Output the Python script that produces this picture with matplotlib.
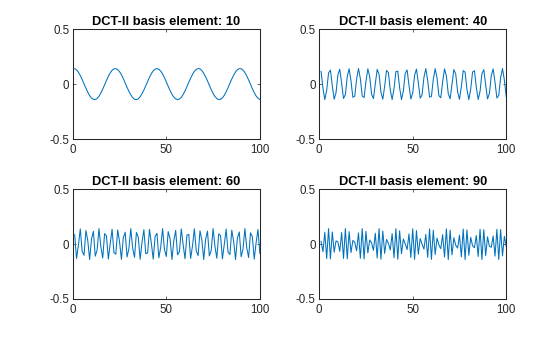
import matplotlib
matplotlib.use('Agg')
import matplotlib.pyplot as plt

plt.rcParams['font.family'] = ['Liberation Sans', 'DejaVu Sans']

# sample index 1..100
n = list(range(1, 101))

elements = [10, 40, 60, 90]

dct10 = [.140, .129, .108, .078, .042, .002, -.037, -.074, -.105, -.127,
         -.139, -.141, -.131, -.110, -.081, -.046, -.007, .033, .070, .102,
         .125, .138, .141, .132, .113, .085, .050, .011, -.029, -.066,
         -.098, -.123, -.138, -.141, -.134, -.116, -.088, -.054, -.016, .024,
         .062, .095, .121, .136, .141, .135, .118, .092, .058, .020,
         -.020, -.058, -.092, -.118, -.135, -.141, -.136, -.121, -.095, -.062,
         -.024, .016, .054, .088, .116, .134, .141, .138, .123, .098,
         .066, .029, -.011, -.050, -.085, -.113, -.132, -.141, -.138, -.125,
         -.102, -.070, -.033, .007, .046, .081, .110, .131, .141, .139,
         .127, .105, .074, .037, -.002, -.042, -.078, -.108, -.129, -.140]

dct40 = [.116, -.037, -.141, -.058, .102, .127, -.016, -.138, -.078, .085,
         .135, .007, -.131, -.095, .066, .140, .029, -.121, -.110, .046,
         .141, .050, -.108, -.123, .024, .139, .070, -.092, -.132, .002,
         .134, .088, -.074, -.138, -.020, .125, .105, -.054, -.141, -.042,
         .113, .118, -.033, -.141, -.062, .098, .129, -.011, -.136, -.081,
         .081, .136, .011, -.129, -.098, .062, .141, .033, -.118, -.113,
         .042, .141, .054, -.105, -.125, .020, .138, .074, -.088, -.134,
         -.002, .132, .092, -.070, -.139, -.024, .123, .108, -.050, -.141,
         -.046, .110, .121, -.029, -.140, -.066, .095, .131, -.007, -.135,
         -.085, .078, .138, .016, -.127, -.102, .058, .141, .037, -.116]

dct60 = [.085, -.132, -.011, .138, -.066, -.102, .123, .033, -.141, .046,
         .116, -.110, -.054, .141, -.024, -.127, .095, .074, -.136, .002,
         .135, -.078, -.092, .129, .020, -.140, .058, .108, -.118, -.042,
         .141, -.037, -.121, .105, .062, -.139, .016, .131, -.088, -.081,
         .134, .007, -.138, .070, .098, -.125, -.029, .141, -.050, -.113,
         .113, .050, -.141, .029, .125, -.098, -.070, .138, -.007, -.134,
         .081, .088, -.131, -.016, .139, -.062, -.105, .121, .037, -.141,
         .042, .118, -.108, -.058, .140, -.020, -.129, .092, .078, -.135,
         -.002, .136, -.074, -.095, .127, .024, -.141, .054, .110, -.116,
         -.046, .141, -.033, -.123, .102, .066, -.138, .011, .132, -.085]

dct90 = [.024, -.070, .108, -.132, .141, -.134, .110, -.074, .029, .020,
         -.066, .105, -.131, .141, -.135, .113, -.078, .033, .016, -.062,
         .102, -.129, .141, -.136, .116, -.081, .037, .011, -.058, .098,
         -.127, .141, -.138, .118, -.085, .042, .007, -.054, .095, -.125,
         .140, -.138, .121, -.088, .046, .002, -.050, .092, -.123, .139,
         -.139, .123, -.092, .050, -.002, -.046, .088, -.121, .138, -.140,
         .125, -.095, .054, -.007, -.042, .085, -.118, .138, -.141, .127,
         -.098, .058, -.011, -.037, .081, -.116, .136, -.141, .129, -.102,
         .062, -.016, -.033, .078, -.113, .135, -.141, .131, -.105, .066,
         -.020, -.029, .074, -.110, .134, -.141, .132, -.108, .070, -.024]

series = [dct10, dct40, dct60, dct90]

fig = plt.figure(figsize=(5.6, 3.37), dpi=100)

# subplot boxes (left, bottom, width, height) in figure fractions
boxes = [(0.130, 0.5875, 0.334, 0.326),
         (0.570, 0.5875, 0.334, 0.326),
         (0.130, 0.1128, 0.334, 0.326),
         (0.570, 0.1128, 0.334, 0.326)]

axcol = '#262626'
for box, k, y in zip(boxes, elements, series):
    ax = fig.add_axes(box)
    ax.plot(n, y, color='#0072BD', lw=0.75)
    ax.set_xlim(0, 100)
    ax.set_ylim(-0.5, 0.5)
    ax.set_xticks([0, 50, 100])
    ax.set_yticks([-0.5, 0, 0.5])
    ax.set_yticklabels(['-0.5', '0', '0.5'])
    ax.tick_params(direction='in', length=2.5, width=0.5, labelsize=8.3,
                   colors=axcol, top=True, right=True)
    ax.tick_params(axis='x', pad=3.5)
    ax.tick_params(axis='y', pad=2.5)
    for s in ax.spines.values():
        s.set_linewidth(0.75)
        s.set_color(axcol)
    ax.set_title('DCT-II basis element: %d' % k, fontsize=9.3, fontweight='bold',
                 color='black', pad=3)

fig.savefig('out.png', dpi=100)
